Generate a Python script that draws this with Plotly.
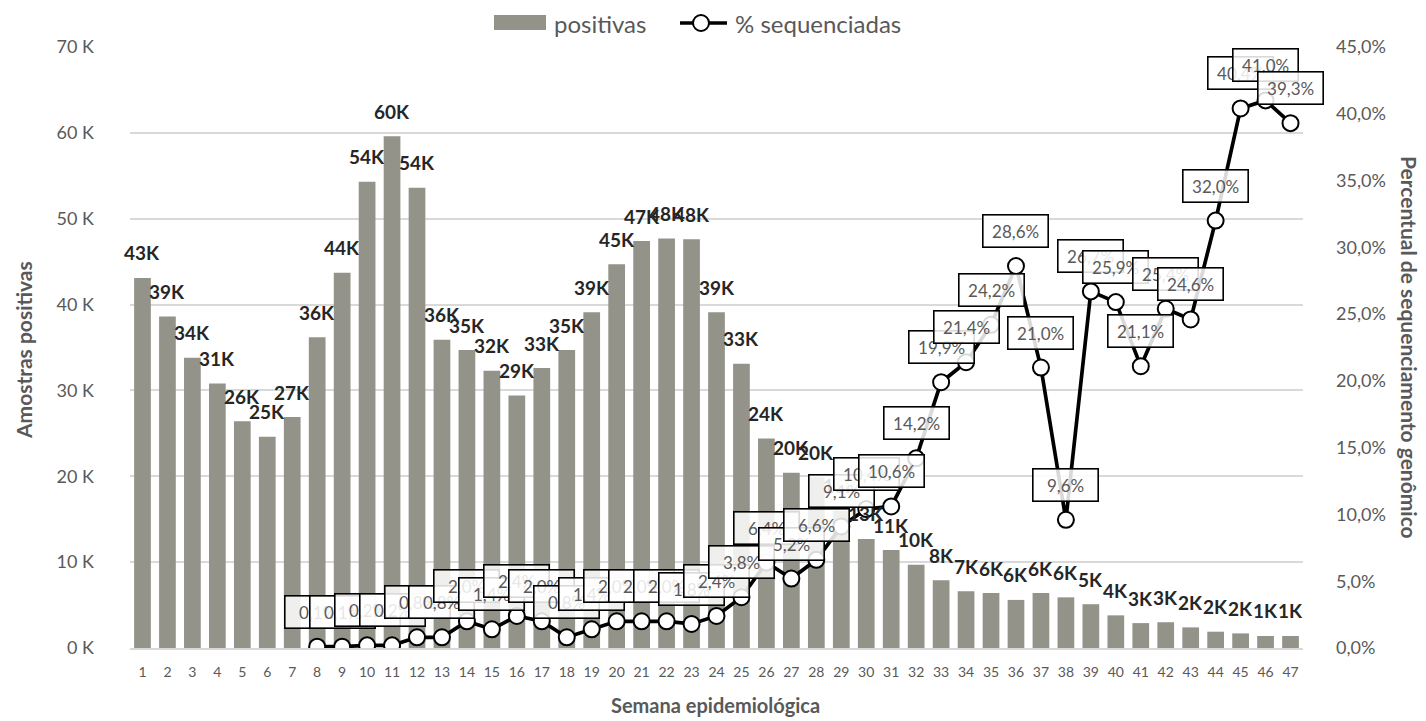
import plotly.graph_objects as go

weeks = list(range(1, 48))
positivas = [43100, 38600, 33800, 30800, 26400, 24600, 26900, 36200, 43700, 54300,
             59600, 53600, 35900, 34700, 32300, 29400, 32600, 34700, 39100, 44700,
             47400, 47700, 47600, 39100, 33100, 24400, 20400, 19900, 16000, 12700,
             11400, 9700, 7900, 6600, 6400, 5600, 6400, 5900, 5100, 3800,
             2900, 3000, 2400, 1900, 1700, 1400, 1400]
pct_seq = [None] * 7 + [0.1, 0.1, 0.2, 0.2, 0.8, 0.8, 2.0, 1.4, 2.4, 2.0,
                        0.8, 1.4, 2.0, 2.0, 2.0, 1.8, 2.4, 3.8, 6.4, 5.2,
                        6.6, 9.1, 10.4, 10.6, 14.2, 19.9, 21.4, 24.2, 28.6, 21.0,
                        9.6, 26.7, 25.9, 21.1, 25.4, 24.6, 32.0, 40.4, 41.0, 39.3]
left_tickvals = [0, 10000, 20000, 30000, 40000, 50000, 60000, 70000]
left_ticktext = ["0 K", "10 K", "20 K", "30 K", "40 K", "50 K", "60 K", "70 K"]
right_tickvals = [0, 5, 10, 15, 20, 25, 30, 35, 40, 45]
right_ticktext = ["0,0%", "5,0%", "10,0%", "15,0%", "20,0%", "25,0%",
                  "30,0%", "35,0%", "40,0%", "45,0%"]
legend_names = ["positivas", "% sequenciadas"]

FONT = "Lato"
GREY = "#595959"
BAR_COLOR = "#939389"

OFF = 8  # page body margin
W, H = 1426 - OFF, 721 - OFF
ML, MT = 130 - OFF, 47 - OFF
MR = W - (1303 - OFF)
MB = H - (648 - OFF)
PW, PH = W - ML - MR, H - MT - MB


def px_x(px):
    return (px - OFF - ML) / PW


def px_y(py):
    return (H + OFF - MB - py) / PH


fig = go.Figure()
fig.add_trace(go.Bar(
    x=weeks, y=positivas, name=legend_names[0],
    marker=dict(color=BAR_COLOR, line=dict(width=0)),
    yaxis="y", showlegend=False,
))
fig.add_trace(go.Scatter(
    x=weeks, y=pct_seq, name=legend_names[1], yaxis="y2",
    mode="lines+markers",
    line=dict(color="black", width=3.7),
    marker=dict(size=16, color="white", line=dict(color="black", width=2)),
    connectgaps=False, showlegend=False,
))

annotations = []
for w, v in zip(weeks, positivas):
    annotations.append(dict(
        x=w, y=v, xref="x", yref="y", yshift=25, showarrow=False,
        xanchor="center", yanchor="middle",
        text=f"<b>{round(v / 1000)}K</b>",
        font=dict(family=FONT, size=19, color="#262626"),
    ))
for w, p in zip(weeks, pct_seq):
    if p is None:
        continue
    annotations.append(dict(
        x=w, y=p, xref="x", yref="y2", yshift=35, showarrow=False,
        xanchor="center", yanchor="middle",
        text=f"{p:.1f}%".replace(".", ","),
        font=dict(family=FONT, size=17, color=GREY),
        bgcolor="rgba(255,255,255,0.85)", bordercolor="black", borderwidth=1.6,
        width=60, height=27, borderpad=2,
    ))
# axis titles
annotations.append(dict(
    x=px_x(1410), y=px_y(347), xref="paper", yref="paper", showarrow=False,
    xanchor="center", yanchor="middle",
    text="<b>Percentual de sequenciamento genômico</b>", textangle=90,
    font=dict(family=FONT, size=21, color=GREY),
))
annotations.append(dict(
    x=px_x(23), y=px_y(350), xref="paper", yref="paper", showarrow=False,
    xanchor="center", yanchor="middle",
    text="<b>Amostras positivas</b>", textangle=-90,
    font=dict(family=FONT, size=21, color=GREY),
))
annotations.append(dict(
    x=px_x(715), y=px_y(705), xref="paper", yref="paper", showarrow=False,
    xanchor="center", yanchor="middle",
    text="<b>Semana epidemiológica</b>",
    font=dict(family=FONT, size=20, color=GREY),
))
# legend
annotations.append(dict(
    x=px_x(552), y=px_y(23), xref="paper", yref="paper", showarrow=False,
    xanchor="left", yanchor="middle", text=legend_names[0],
    font=dict(family=FONT, size=24, color=GREY),
))
annotations.append(dict(
    x=px_x(733), y=px_y(23), xref="paper", yref="paper", showarrow=False,
    xanchor="left", yanchor="middle", text=legend_names[1],
    font=dict(family=FONT, size=24, color=GREY),
))

shapes = [
    dict(type="rect", xref="paper", yref="paper",
         x0=px_x(494), x1=px_x(546), y0=px_y(30), y1=px_y(15),
         fillcolor=BAR_COLOR, line=dict(width=0)),
    dict(type="line", xref="paper", yref="paper",
         x0=px_x(680), x1=px_x(727), y0=px_y(23), y1=px_y(23),
         line=dict(color="black", width=3.7)),
    dict(type="circle", xref="paper", yref="paper",
         x0=px_x(693), x1=px_x(709), y0=px_y(31), y1=px_y(15),
         fillcolor="white", line=dict(color="black", width=2)),
]

fig.update_layout(
    width=W, height=H,
    margin=dict(l=ML, r=MR, t=MT, b=MB, autoexpand=False),
    paper_bgcolor="white", plot_bgcolor="white",
    separators=",.",
    bargap=0.33,
    font=dict(family=FONT, color=GREY),
    showlegend=False,
    xaxis=dict(
        range=[0.5, 47.5], tickmode="array", tickvals=weeks,
        ticktext=[str(w) for w in weeks], tickangle=0,
        tickfont=dict(family=FONT, size=14, color=GREY),
        showgrid=False, showline=True, linecolor="#d9d9d9", linewidth=1.5,
        ticks="", zeroline=False, automargin=False, ticklabelstandoff=10,
    ),
    yaxis=dict(
        range=[0, 70000], tickmode="array", tickvals=left_tickvals, ticktext=left_ticktext,
        tickfont=dict(family=FONT, size=18, color=GREY),
        showgrid=True, gridcolor="#d9d9d9", gridwidth=1.5, zeroline=False, showline=False,
        ticks="", ticklabelstandoff=35, automargin=False,
    ),
    yaxis2=dict(
        range=[0, 45], overlaying="y", side="right", tickmode="array",
        tickvals=right_tickvals, ticktext=right_ticktext,
        tickfont=dict(family=FONT, size=18, color=GREY),
        showgrid=False, zeroline=False, showline=False, ticks="", ticklabelstandoff=32,
        automargin=False,
    ),
    annotations=annotations,
    shapes=shapes,
)

fig.write_html("out.html")
